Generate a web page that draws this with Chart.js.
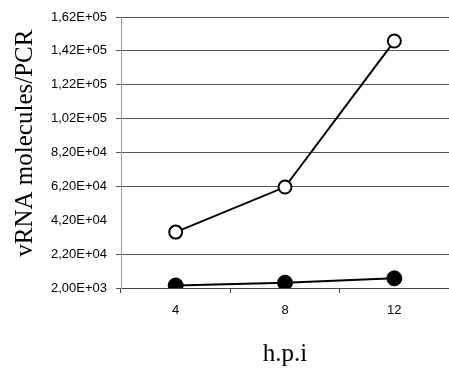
<!DOCTYPE html>
<html>
<head>
<meta charset="utf-8">
<script src="https://cdn.jsdelivr.net/npm/chart.js@4/dist/chart.umd.min.js"></script>
<style>
  html, body { margin: 0; padding: 0; background: #fff; }
  #wrap { width: 449px; height: 371px; }
</style>
</head>
<body>
<div id="wrap"><canvas id="chartVrna"></canvas></div>
<script>
  // ── DATA ──────────────────────────────────────────────────────────
  const HOURS         = ['4', '8', '12'];
  const OPEN_VALUES   = [35000, 61600, 147800];
  const FILLED_VALUES = [3500, 5100, 7700];
  const Y_MIN  = 2000;
  const Y_MAX  = 162000;
  const Y_STEP = 20000;
  const HIDDEN_GRID_VALUES = [42000];

  // "1,62E+05" style labels
  function sciLabel(v) {
    const parts = Number(v).toExponential(2).split('e');
    const exp = parseInt(parts[1], 10);
    const sign = exp < 0 ? '-' : '+';
    const digits = String(Math.abs(exp)).padStart(2, '0');
    return parts[0].replace('.', ',') + 'E' + sign + digits;
  }

  const SERIF = "'Liberation Serif', 'Times New Roman', serif";
  const SANS  = "'Liberation Sans', Arial, sans-serif";

  new Chart(document.getElementById('chartVrna'), {
    type: 'line',
    data: {
      labels: HOURS,
      datasets: [
        {
          label: 'open',
          data: OPEN_VALUES,
          borderColor: '#000',
          borderWidth: 2,
          pointStyle: 'circle',
          pointRadius: 6.5,
          pointBorderWidth: 2,
          pointBackgroundColor: '#fff',
          pointBorderColor: '#000',
          tension: 0
        },
        {
          label: 'filled',
          data: FILLED_VALUES,
          borderColor: '#000',
          borderWidth: 2,
          pointStyle: 'circle',
          pointRadius: 7.5,
          pointBorderWidth: 1,
          pointBackgroundColor: '#000',
          pointBorderColor: '#000',
          tension: 0
        }
      ]
    },
    options: {
      responsive: true,
      maintainAspectRatio: false,
      animation: false,
      layout: { autoPadding: false, padding: { top: 17, right: -5, bottom: 0, left: 0 } },
      plugins: {
        legend: { display: false },
        tooltip: { enabled: false }
      },
      scales: {
        x: {
          type: 'category',
          offset: true,
          afterFit(scale) { scale.height = 83; },
          border: { color: '#444', width: 1 },
          grid: {
            offset: true,
            drawOnChartArea: false,
            drawTicks: true,
            tickLength: 5,
            color: '#444'
          },
          ticks: {
            color: '#000',
            padding: 10,
            font: { family: SANS, size: 13 }
          },
          title: {
            display: true,
            text: 'h.p.i',
            color: '#000',
            font: { family: SERIF, size: 25 },
            padding: { top: 0, bottom: 2 }
          }
        },
        y: {
          type: 'linear',
          min: Y_MIN,
          max: Y_MAX,
          afterFit(scale) { scale.width = 121; },
          border: { color: '#999', width: 1 },
          grid: {
            color: ctx => (ctx.tick && HIDDEN_GRID_VALUES.includes(ctx.tick.value)) ? 'rgba(0,0,0,0)' : '#555',
            lineWidth: 1,
            tickLength: 5
          },
          ticks: {
            stepSize: Y_STEP,
            color: '#000',
            padding: 9,
            font: { family: SANS, size: 13 },
            callback: v => sciLabel(v)
          },
          title: {
            display: true,
            text: '\u00a0\u00a0\u00a0vRNA molecules/PCR',
            color: '#000',
            font: { family: SERIF, size: 25 },
            padding: { top: 10, bottom: 0 }
          }
        }
      }
    }
  });
</script>
</body>
</html>
